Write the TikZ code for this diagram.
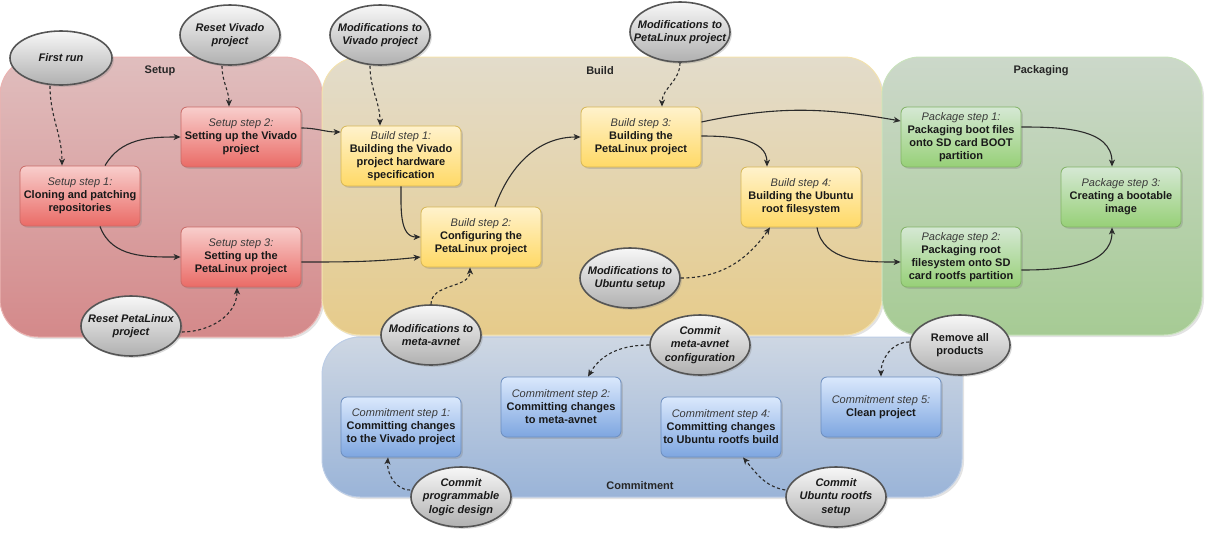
\documentclass[tikz,border=0pt]{standalone}
\usepackage{fontspec}
\setmainfont{Liberation Sans}
\usetikzlibrary{shapes.geometric,shadows,arrows.meta,calc}
\definecolor{setT}{HTML}{E0BEBE}
\definecolor{setB}{HTML}{D4898A}
\definecolor{setL}{HTML}{EBB3B1}
\definecolor{bldT}{HTML}{E3DCCB}
\definecolor{bldB}{HTML}{E6CB8A}
\definecolor{bldL}{HTML}{F3E2AE}
\definecolor{pkgT}{HTML}{CCD8CA}
\definecolor{pkgB}{HTML}{A6CB94}
\definecolor{pkgL}{HTML}{C9E2BD}
\definecolor{comT}{HTML}{CED7E3}
\definecolor{comB}{HTML}{9AB4D8}
\definecolor{comL}{HTML}{BCCDE6}
\definecolor{rT}{HTML}{F8CECC}
\definecolor{rB}{HTML}{EA6B66}
\definecolor{rD}{HTML}{C96A66}
\definecolor{yT}{HTML}{FFF2CC}
\definecolor{yB}{HTML}{FFD966}
\definecolor{yD}{HTML}{D6B656}
\definecolor{gT}{HTML}{D5E8D4}
\definecolor{gB}{HTML}{97D077}
\definecolor{gD}{HTML}{82B366}
\definecolor{bT}{HTML}{DAE8FC}
\definecolor{bB}{HTML}{7EA6E0}
\definecolor{bD}{HTML}{6C8EBF}
\definecolor{ovT}{HTML}{F7F7F7}
\definecolor{ovB}{HTML}{B0B0B0}
\definecolor{ovD}{HTML}{555555}
\definecolor{edgeC}{HTML}{2B2B2B}
\definecolor{ital}{HTML}{3A3A3A}
\newcommand\stepname[1]{{\mdseries\itshape\color{ital}#1}\\}
\tikzset{
  cont/.style={rounded corners=38pt, line width=1pt,
    drop shadow={shadow xshift=2pt,shadow yshift=-2pt,opacity=0.22}},
  ctitle/.style={font=\fontsize{11}{13}\selectfont\bfseries, text=black!85},
  stepbox/.style={rounded corners=6pt, minimum width=120pt, minimum height=60pt,
    align=center, line width=0.8pt, inner sep=2pt,
    font=\fontsize{11}{13}\selectfont\bfseries, text=black!90,
    drop shadow={shadow xshift=1.8pt,shadow yshift=-1.8pt,opacity=0.3}},
  rbox/.style={stepbox, top color=rT, bottom color=rB, draw=rD},
  ybox/.style={stepbox, top color=yT, bottom color=yB, draw=yD},
  gbox/.style={stepbox, top color=gT, bottom color=gB, draw=gD},
  bbox/.style={stepbox, top color=bT, bottom color=bB, draw=bD},
  oval/.style={ellipse, minimum width=100pt, minimum height=60pt, inner sep=0pt,
    line width=1.6pt, draw=ovD, top color=ovT, bottom color=ovB,
    drop shadow={shadow xshift=1.8pt,shadow yshift=-1.8pt,opacity=0.3}},
  ovtxt/.style={align=center, inner sep=0pt, text=black!90,
    font=\fontsize{11}{13.5}\selectfont\bfseries\itshape},
  ovtxtu/.style={ovtxt, font=\fontsize{11}{13.5}\selectfont\bfseries},
  flow/.style={draw=edgeC, line width=1.1pt,
    -{Stealth[length=7pt,width=6pt,inset=2pt]}},
  dflow/.style={flow, dash pattern=on 3pt off 2.5pt}
}
\begin{document}
\begin{tikzpicture}[x=1pt,y=-1pt]
\useasboundingbox (0,0) rectangle (1215,542);
% containers
\path[cont, top color=comT, bottom color=comB, draw=comL] (322,337) rectangle (962,497);
\path[cont, top color=setT, bottom color=setB, draw=setL] (0,57) rectangle (322,337);
\path[cont, top color=bldT, bottom color=bldB, draw=bldL] (322,57) rectangle (882,335);
\path[cont, top color=pkgT, bottom color=pkgB, draw=pkgL] (882,57) rectangle (1202,335);
\node[ctitle] (tset) at (160,71) {Setup};
\node[ctitle] (tbld) at (600,71) {Build};
\node[ctitle] (tpkg) at (1041,71) {Packaging};
\node[ctitle] (tcom) at (640,486) {Commitment};
% step boxes
\node[rbox] (s1) at (80,196) {\stepname{Setup step 1:}Cloning and patching\\repositories};
\node[rbox] (s2) at (241,137) {\stepname{Setup step 2:}Setting up the Vivado\\project};
\node[rbox] (s3) at (241,257) {\stepname{Setup step 3:}Setting up the\\PetaLinux project};
\node[ybox] (b1) at (401,156) {\stepname{Build step 1:}Building the Vivado\\project hardware\\specification};
\node[ybox] (b2) at (481,237) {\stepname{Build step 2:}Configuring the\\PetaLinux project};
\node[ybox] (b3) at (641,137) {\stepname{Build step 3:}Building the\\PetaLinux project};
\node[ybox] (b4) at (801,197) {\stepname{Build step 4:}Building the Ubuntu\\root filesystem};
\node[gbox] (p1) at (961,137) {\stepname{Package step 1:}Packaging boot files\\onto SD card BOOT\\partition};
\node[gbox] (p2) at (961,257) {\stepname{Package step 2:}Packaging root\\filesystem onto SD\\card rootfs partition};
\node[gbox] (p3) at (1121,197) {\stepname{Package step 3:}Creating a bootable\\image};
\node[bbox] (c1) at (401,427) {\stepname{Commitment step 1:}Committing changes\\to the Vivado project};
\node[bbox] (c2) at (561,407) {\stepname{Commitment step 2:}Committing changes\\to meta-avnet};
\node[bbox] (c4) at (721,427) {\stepname{Commitment step 4:}Committing changes\\to Ubuntu rootfs build};
\node[bbox] (c5) at (881,407) {\stepname{Commitment step 5:}Clean project};
% ellipses
\node[oval, minimum width=102pt, minimum height=54pt, label={[ovtxt]center:First run}] (fr) at (61,58) {};
\node[oval, label={[ovtxt]center:Reset Vivado\\project}] (rv) at (230,35) {};
\node[oval, label={[ovtxt]center:Reset PetaLinux\\project}] (rp) at (131,326) {};
\node[oval, label={[ovtxt]center:Modifications to\\Vivado project}] (mv) at (380,35) {};
\node[oval, label={[ovtxt]center:Modifications to\\meta-avnet}] (mm) at (431,335) {};
\node[oval, label={[ovtxt]center:Modifications to\\PetaLinux project}] (mpl) at (680,32) {};
\node[oval, label={[ovtxt]center:Modifications to\\Ubuntu setup}] (mu) at (630,278) {};
\node[oval, label={[ovtxt]center:Commit\\meta-avnet\\configuration}] (cm) at (700,345) {};
\node[oval, label={[ovtxtu]center:Remove all\\products}] (rap) at (960,345) {};
\node[oval, label={[ovtxt]center:Commit\\programmable\\logic design}] (cpl) at (461,497) {};
\node[oval, label={[ovtxt]center:Commit\\Ubuntu rootfs\\setup}] (cur) at (836,497) {};
% solid flows
\draw[flow] ($(s1.north)+(25,0)$) to[out=60,in=180] (s2.west);
\draw[flow] ($(s1.south)+(20,0)$) to[out=-70,in=180] (s3.west);
\draw[flow] ($(s2.east)+(0,-9)$) to[out=0,in=180] ($(b1.west)+(0,-24)$);
\draw[flow] ($(s3.east)+(0,5)$) to[out=0,in=186] ($(b2.west)+(0,20)$);
\draw[flow] (b1.south) to[out=-90,in=180] (b2.west);
\draw[flow] ($(b2.north)+(14,0)$) to[out=70,in=180] (b3.west);
\draw[flow] ($(b3.east)+(0,-15)$) to[out=12,in=170] ($(p1.west)+(0,-16)$);
\draw[flow] ($(b3.east)+(0,-1)$) to[out=0,in=90] ($(b4.north)+(-34,0)$);
\draw[flow] ($(b4.south)+(16,0)$) to[out=-80,in=180] ($(p2.west)+(0,5)$);
\draw[flow] ($(p1.east)+(0,-10)$) to[out=0,in=90] ($(p3.north)+(-9,0)$);
\draw[flow] ($(p2.east)+(0,13)$) to[out=0,in=-90] ($(p3.south)+(-9,0)$);
% dashed flows
\draw[dflow] ($(fr.south)+(-11,0)$) to[out=-90,in=90] ($(s1.north)+(-18,0)$);
\draw[dflow] ($(rv.south)+(-8,0)$) to[out=-90,in=90] ($(s2.north)+(-12,0)$);
\draw[dflow] ($(rp.east)+(0,6)$) to[out=0,in=-90] ($(s3.south)+(-4,0)$);
\draw[dflow] ($(mv.south)+(-10,0)$) to[out=-90,in=90] ($(b1.north)+(-21,0)$);
\draw[dflow] (mm.north) to[out=90,in=-90] ($(b2.south)+(-11,0)$);
\draw[dflow] (mpl.south) to[out=-90,in=90] ($(b3.north)+(21,0)$);
\draw[dflow] (mu.east) to[out=0,in=-125] ($(b4.south)+(-31,0)$);
\draw[dflow] (cm.west) to[out=180,in=60] ($(c2.north)+(27,0)$);
\draw[dflow] ($(rap.west)+(0,-3)$) to[out=180,in=90] (c5.north);
\draw[dflow] ($(cpl.west)+(0,-7)$) to[out=180,in=-95] ($(c1.south)+(-13,0)$);
\draw[dflow] ($(cur.west)+(0,-7)$) to[out=170,in=-50] ($(c4.south)+(22,0)$);
\end{tikzpicture}
\end{document}
